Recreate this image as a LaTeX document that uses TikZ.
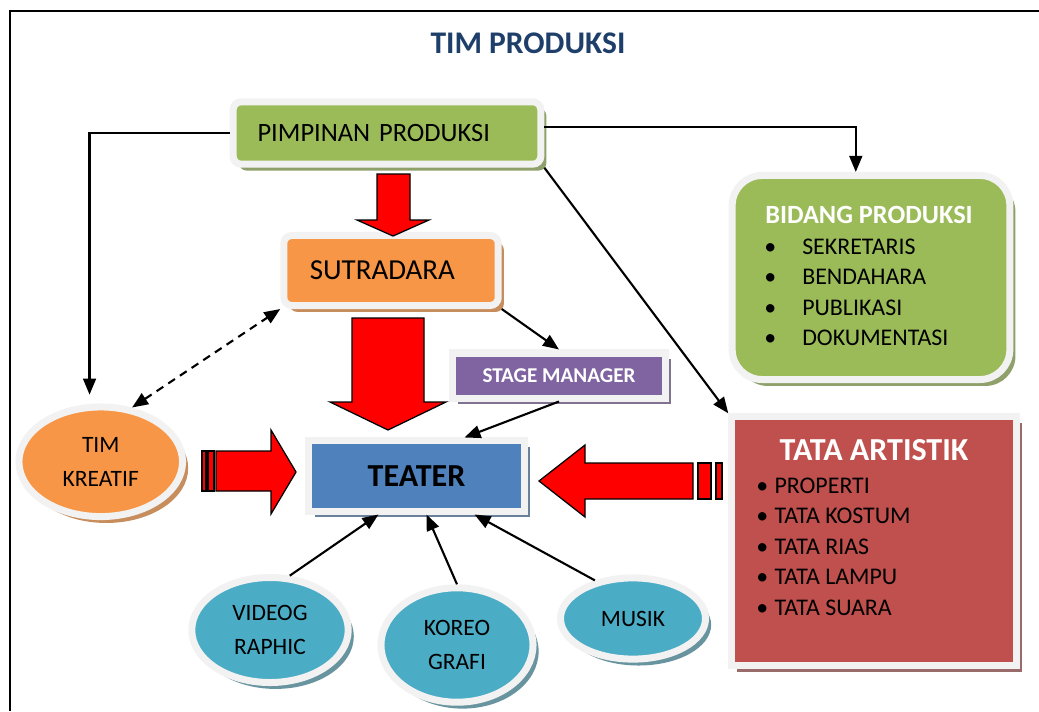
\documentclass[tikz,border=0pt]{standalone}
\usepackage{fontspec}
\setmainfont{Carlito}
\usetikzlibrary{shapes.geometric,shadows,arrows.meta}

\definecolor{ogreen}{HTML}{9BBB59}
\definecolor{oorange}{HTML}{F79646}
\definecolor{oblue}{HTML}{4F81BD}
\definecolor{opurple}{HTML}{8064A2}
\definecolor{ored}{HTML}{C0504D}
\definecolor{oaqua}{HTML}{4BACC6}
\definecolor{orim}{HTML}{F2F2F2}
\definecolor{otitle}{HTML}{1F3F6B}

\tikzset{
	>={Triangle[length=0.4cm, width=0.32cm]},
	panel/.style={draw=orim, line width=0.175cm, inner sep=0pt, align=center},
	boxshadow/.style={drop shadow={shadow xshift=0.14cm, shadow yshift=-0.16cm, opacity=1, fill=#1}},
	conn/.style={line width=1.5pt, ->},
	blockarrow/.style={fill=red, draw=black, line width=0.9pt, line join=miter},
	ellfont/.style={font=\fontsize{16.7}{24}\selectfont},
	listfont/.style={font=\fontsize{17}{21.7}\selectfont},
}

\begin{document}
\begin{tikzpicture}[x=0.025cm, y=-0.025cm]
		\useasboundingbox (0,0) rectangle (1039,711);
		\draw[line width=1.4pt] (10,711) -- (10,11) -- (1039,11);
		\node[font=\bfseries\fontsize{22.4}{26}\selectfont, text=otitle] (T_0) at (528,43) {TIM PRODUKSI};
		% boxes
		\node[panel, rounded corners=0.2cm, fill=ogreen, boxshadow={ogreen!55!gray}, minimum height=1.56cm, inner xsep=0.61cm, text width=6.47cm, align=left, font=\fontsize{18.8}{22}\selectfont] (P_0_0) at (387,133) {\mbox{PIMPINAN PRODUKSI}};
		\node[panel, rounded corners=0.75cm, fill=ogreen, boxshadow={ogreen!55!gray}, minimum width=6.94cm, minimum height=5.1cm] (P_0_1) at (871,277.5) {};
		\node[font=\bfseries\fontsize{18.7}{22}\selectfont, text=white] (H_0_1) at (869,215) {BIDANG PRODUKSI};
		\node[listfont, anchor=west, align=left, inner sep=0pt] (I_0_1) at (764,292.5) {\makebox[0.95cm][l]{\textbullet}SEKRETARIS\\\makebox[0.95cm][l]{\textbullet}BENDAHARA\\\makebox[0.95cm][l]{\textbullet}PUBLIKASI\\\makebox[0.95cm][l]{\textbullet}DOKUMENTASI};
		\node[panel, rounded corners=0.2cm, fill=oorange, boxshadow={oorange!60!gray}, minimum height=1.75cm, inner xsep=0.65cm, text width=4.06cm, align=left, font=\fontsize{20.6}{24}\selectfont] (P_1_0) at (391,270.5) {SUTRADARA};
		\node[panel, fill=opurple, boxshadow={opurple!45!gray}, minimum width=5.31cm, minimum height=1.125cm, font=\bfseries\fontsize{15}{18}\selectfont, text=white] (P_2_1) at (559,375.5) {STAGE MANAGER};
		\node[panel, fill=oblue, boxshadow={oblue!45!gray}, minimum width=5.375cm, minimum height=1.75cm, font=\bfseries\fontsize{22.8}{26}\selectfont] (P_2_0) at (416.5,476) {TEATER};
		\node[panel, fill=ored, boxshadow={ored!40!gray}, minimum width=7.11cm, minimum height=6.21cm] (P_2_2) at (874,541) {};
		\node[font=\bfseries\fontsize{22.8}{26}\selectfont, text=white] (H_2_2) at (874,450) {TATA ARTISTIK};
		\node[listfont, anchor=west, align=left, inner sep=0pt] (I_2_2) at (756,546.5) {\makebox[0.456cm][l]{\textbullet}PROPERTI\\\makebox[0.456cm][l]{\textbullet}TATA KOSTUM\\\makebox[0.456cm][l]{\textbullet}TATA RIAS\\\makebox[0.456cm][l]{\textbullet}TATA LAMPU\\\makebox[0.456cm][l]{\textbullet}TATA SUARA};
		% ellipses
		\node[panel, ellipse, fill=oorange, boxshadow={oorange!60!gray}, minimum width=4.09cm, minimum height=2.74cm, ellfont] (P_2_-1) at (100.75,461.75) {TIM\\KREATIF};
		\node[panel, ellipse, fill=oaqua, boxshadow={oaqua!45!gray}, minimum width=3.91cm, minimum height=2.625cm, ellfont] (P_3_-1) at (270,630) {VIDEOG\\RAPHIC};
		\node[panel, ellipse, fill=oaqua, boxshadow={oaqua!45!gray}, minimum width=3.8cm, minimum height=2.86cm, ellfont] (P_3_0) at (457,645) {KOREO\\GRAFI};
		\node[panel, ellipse, fill=oaqua, boxshadow={oaqua!45!gray}, minimum width=3.625cm, minimum height=2.03cm, ellfont] (P_3_1) at (633,618.5) {MUSIK};
		% block arrows
		\draw[blockarrow] (377,174) -- (410,174) -- (410,220) -- (429,220) -- (393,236) -- (357,220) -- (377,220) -- cycle;
		\draw[blockarrow] (352,318) -- (424,318) -- (424,402) -- (446,402) -- (388,430) -- (330,402) -- (352,402) -- cycle;
		\draw[blockarrow] (216,451) -- (271,451) -- (271,430) -- (296,472) -- (271,514) -- (271,491) -- (216,491) -- cycle;
		\draw[blockarrow] (202,451) rectangle (206,491);
		\draw[blockarrow] (208,451) rectangle (214,491);
		\draw[blockarrow] (693,463) -- (585,463) -- (585,445) -- (539,481) -- (585,517) -- (585,499) -- (693,499) -- cycle;
		\draw[blockarrow] (698,463) rectangle (711,499);
		\draw[blockarrow] (716,463) rectangle (722,499);
		% connectors
		\draw[conn] (P_0_0.west) -| ([xshift=-0.28cm, yshift=0.22cm]P_2_-1.north);
		\draw[conn] ([yshift=0.15cm]P_0_0.east) -| ([xshift=-0.38cm]P_0_1.north);
		\draw[conn] (P_0_0.south east) -- (P_2_2.north west);
		\draw[conn] (P_1_0.south east) -- (P_2_1.north);
		\draw[conn] (P_2_1.south) -- ([xshift=1.2cm]P_2_0.north);
		\draw[conn, <->, dash pattern=on 0.2cm off 0.15cm] (P_2_-1.60) -- (P_1_0.south west);
		\draw[conn] (P_3_-1.70) -- ([xshift=-0.95cm]P_2_0.south);
		\draw[conn] (P_3_0.north) -- ([xshift=0.25cm]P_2_0.south);
		\draw[conn] (P_3_1.135) -- ([xshift=1.45cm]P_2_0.south);
\end{tikzpicture}
\end{document}
